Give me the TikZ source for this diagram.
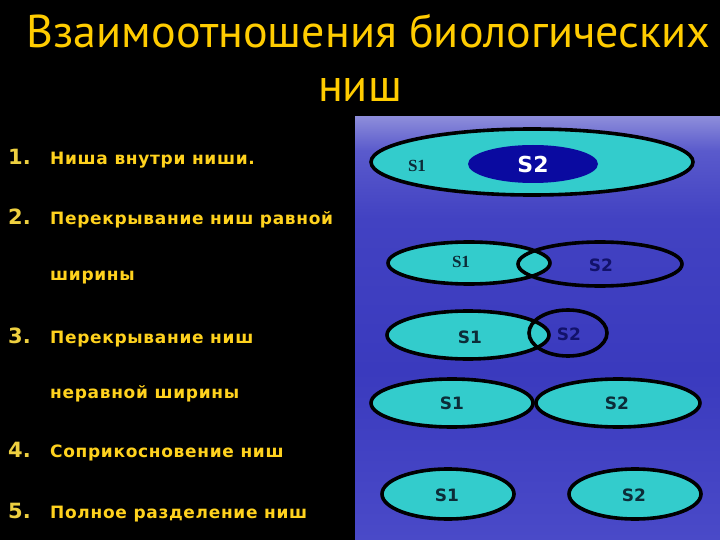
\documentclass[tikz,border=0pt]{standalone}
\usepackage{fontspec}
\setmainfont{DejaVu Sans}
\newfontfamily\titlefont{PT Sans}
\newfontfamily\itemfont{DejaVu Sans}
\newfontfamily\itemfontsp[LetterSpace=4]{DejaVu Sans}
\newfontfamily\serifl{Liberation Serif}
\usetikzlibrary{shapes.geometric}
\definecolor{ttl}{HTML}{FFCC00}
\definecolor{itm}{HTML}{FFD21E}
\definecolor{num}{HTML}{EED040}
\definecolor{nichecyan}{HTML}{33CCCC}
\definecolor{nichenavy}{HTML}{0A0AA0}
\definecolor{lbldark}{HTML}{0C2C38}
\definecolor{lblnavy}{HTML}{12126A}
\definecolor{wa}{HTML}{4A4AC8}
\definecolor{wb}{HTML}{3A3ABE}
\definecolor{wc}{HTML}{4242C2}
\definecolor{wd}{HTML}{5A5ACC}
\definecolor{we}{HTML}{8C8CDA}
\pgfdeclareverticalshading{water}{100bp}{
  color(0bp)=(wa);
  color(25bp)=(wa);
  color(45bp)=(wb);
  color(63bp)=(wc);
  color(71bp)=(wd);
  color(75bp)=(we);
  color(100bp)=(we)}
\tikzset{
  niche/.style={draw=black, line width=3.6pt},
  itemtext/.style={anchor=base west, text=itm, font=\itemfontsp\bfseries\fontsize{17}{18}\selectfont, inner sep=0pt},
  itemnum/.style={anchor=base west, text=num, font=\itemfont\bfseries\fontsize{21}{24}\selectfont, inner sep=0pt},
  serlbl/.style={text=lbldark, font=\serifl\bfseries\fontsize{17}{18}\selectfont, inner sep=0pt},
  sanslbl/.style={text=lbldark, font=\itemfont\bfseries\fontsize{17}{18}\selectfont, inner sep=0pt},
  titletext/.style={anchor=base, text=ttl, inner sep=0pt, font=\titlefont\fontsize{46}{50}\selectfont},
}
\begin{document}
\begin{tikzpicture}[x=1pt,y=-1pt]
\useasboundingbox (0,0) rectangle (720,540);
\fill[black] (0,0) rectangle (720,540);
\shade[shading=water] (355,117) rectangle (720,540);
% title
\node[titletext] (t1) at (368.5,48) {Взаимоотношения биологических};
\node[titletext] (t2) at (360,102) {ниш};
% list
\node[itemnum] (n1) at (8,165) {1.};
\node[itemtext] (i1) at (50,165) {Ниша внутри ниши.};
\node[itemnum] (n2) at (8,225) {2.};
\node[itemtext] (i2) at (50,225) {Перекрывание ниш равной};
\node[itemtext] (i2b) at (50,280) {ширины};
\node[itemnum] (n3) at (8,343) {3.};
\node[itemtext] (i3) at (50,343) {Перекрывание ниш};
\node[itemtext] (i3b) at (50,398) {неравной ширины};
\node[itemnum] (n4) at (8,457) {4.};
\node[itemtext] (i4) at (50,457) {Соприкосновение ниш};
\node[itemnum] (n5) at (8,518) {5.};
\node[itemtext] (i5) at (50,518) {Полное разделение ниш};
% row 1
\filldraw[niche, fill=nichecyan] (532,162) ellipse [x radius=161pt, y radius=33pt];
\fill[nichenavy] (533,164) ellipse [x radius=65pt, y radius=19pt];
\node[serlbl] (r1a) at (417,166) {S1};
\node[sanslbl, text=white, font=\itemfont\bfseries\fontsize{22}{24}\selectfont] (r1b) at (533,164) {S2};
% row 2
\filldraw[niche, fill=nichecyan] (469,263) ellipse [x radius=81pt, y radius=21pt];
\draw[niche] (600,264) ellipse [x radius=82pt, y radius=22pt];
\node[serlbl] (r2a) at (461,262) {S1};
\node[sanslbl, text=lblnavy] (r2b) at (601,265) {S2};
% row 3
\filldraw[niche, fill=nichecyan] (468,335) ellipse [x radius=81pt, y radius=24pt];
\draw[niche] (568,333) ellipse [x radius=39pt, y radius=23pt];
\node[sanslbl] (r3a) at (470,337) {S1};
\node[sanslbl, text=lblnavy] (r3b) at (569,334) {S2};
% row 4
\filldraw[niche, fill=nichecyan] (452,403) ellipse [x radius=81pt, y radius=24pt];
\filldraw[niche, fill=nichecyan] (618,403) ellipse [x radius=82pt, y radius=24pt];
\node[sanslbl] (r4a) at (452,403) {S1};
\node[sanslbl] (r4b) at (617,403) {S2};
% row 5
\filldraw[niche, fill=nichecyan] (448,494) ellipse [x radius=66pt, y radius=25pt];
\filldraw[niche, fill=nichecyan] (635,494) ellipse [x radius=66pt, y radius=25pt];
\node[sanslbl] (r5a) at (447,495) {S1};
\node[sanslbl] (r5b) at (634,495) {S2};
\end{tikzpicture}
\end{document}
